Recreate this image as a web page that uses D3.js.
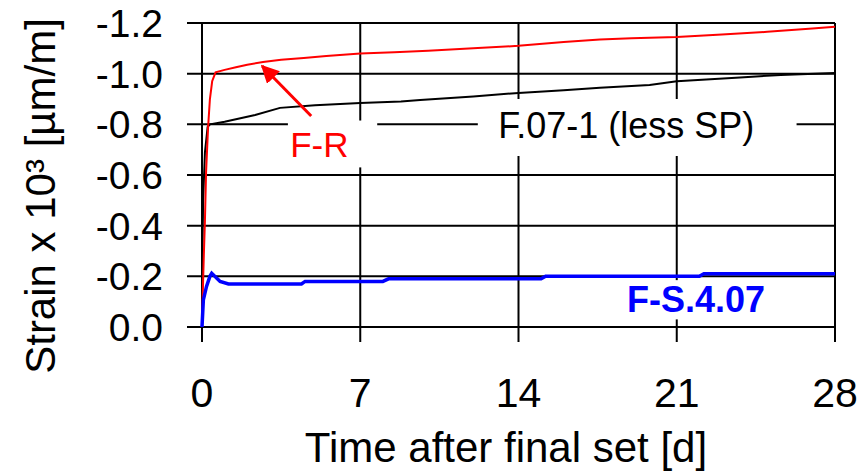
<!DOCTYPE html>
<html>
<head>
<meta charset="utf-8">
<script src="https://cdn.jsdelivr.net/npm/d3@7"></script>
<style>
  body { margin: 0; background: #fff; }
  text { font-family: "Liberation Sans", Arial, sans-serif; }
</style>
</head>
<body>
<div id="chart"></div>
<script>
// data (time in days, strain x 10^3)
var xTicks = [0, 7, 14, 21, 28];
var yTicks = [0, -0.2, -0.4, -0.6, -0.8, -1.0, -1.2];
var yTickLabels = ["0.0", "-0.2", "-0.4", "-0.6", "-0.8", "-1.0", "-1.2"];

var frTime   = [0, 0.03, 0.08, 0.13, 0.18, 0.27, 0.35, 0.45, 0.6, 1, 1.5, 2, 2.7, 3.5, 4.5, 5.5, 7, 8.5, 10, 12, 14, 16, 17.6, 19, 21, 23, 25, 27, 28];
var frStrain = [0, -0.12, -0.28, -0.42, -0.61, -0.79, -0.9, -0.97, -1.005, -1.015, -1.025, -1.035, -1.046, -1.055, -1.062, -1.07, -1.08, -1.085, -1.09, -1.1, -1.11, -1.125, -1.135, -1.14, -1.145, -1.155, -1.165, -1.178, -1.185];

var f07Time   = [0, 0.02, 0.05, 0.13, 0.25, 0.35, 1, 2.35, 3.45, 5, 7, 8.8, 9.65, 12, 14, 16, 17.6, 19.8, 21, 23.8, 25.6, 28];
var f07Strain = [0, -0.3, -0.5, -0.69, -0.79, -0.8, -0.81, -0.837, -0.865, -0.875, -0.884, -0.89, -0.896, -0.91, -0.924, -0.935, -0.944, -0.955, -0.97, -0.985, -0.995, -1.003];

var fsTime   = [0, 0.06, 0.2, 0.35, 0.43, 0.8, 1.17, 4.4, 4.56, 8, 8.25, 15, 15.2, 22, 22.2, 28];
var fsStrain = [0, -0.107, -0.16, -0.2, -0.212, -0.18, -0.17, -0.17, -0.18, -0.18, -0.19, -0.19, -0.2, -0.2, -0.21, -0.21];

// SETUP
var plotLeft = 202, plotRight = 835, plotTop = 23, plotBottom = 327;

var svg = d3.select('#chart')
    .append('svg')
    .attr('width', 862)
    .attr('height', 472);

var xScale = d3.scaleLinear()
    .domain([0, 28])
    .range([plotLeft, plotRight]);

var yScale = d3.scaleLinear()
    .domain([0, -1.2])
    .range([plotBottom, plotTop]);

// grid lines (they stick out 15px as ticks)
svg.selectAll("line.hgrid")
    .data(yTicks)
    .enter()
    .append("line")
    .attr("class", "hgrid")
    .attr("x1", plotLeft - 15)
    .attr("x2", plotRight)
    .attr("y1", (d) => yScale(d))
    .attr("y2", (d) => yScale(d))
    .attr("stroke", "#000")
    .attr("stroke-width", 2);

svg.selectAll("line.vgrid")
    .data(xTicks)
    .enter()
    .append("line")
    .attr("class", "vgrid")
    .attr("x1", (d) => xScale(d))
    .attr("x2", (d) => xScale(d))
    .attr("y1", plotTop)
    .attr("y2", plotBottom + 15)
    .attr("stroke", "#000")
    .attr("stroke-width", 2);

// white boxes behind the labels
var boxes = [
    {x0: 3.8, x1: 7.75, y0: -0.815, y1: -0.63},
    {x0: 12.2, x1: 26.3, y0: -0.9, y1: -0.675},
    {x0: 18.8, x1: 25.4, y0: -0.185, y1: -0.03}
];
svg.selectAll("rect.box")
    .data(boxes)
    .enter()
    .append("rect")
    .attr("class", "box")
    .attr("x", (d) => xScale(d.x0))
    .attr("y", (d) => yScale(d.y0))
    .attr("width", (d) => xScale(d.x1) - xScale(d.x0))
    .attr("height", (d) => yScale(d.y1) - yScale(d.y0))
    .attr("fill", "#fff");

// series
var line = d3.line()
    .x((d) => xScale(d[0]))
    .y((d) => yScale(d[1]));

svg.append("path")
    .datum(d3.zip(f07Time, f07Strain))
    .attr("d", line)
    .attr("fill", "none")
    .attr("stroke", "#000")
    .attr("stroke-width", 2);

svg.append("path")
    .datum(d3.zip(frTime, frStrain))
    .attr("d", line)
    .attr("fill", "none")
    .attr("stroke", "#ff0000")
    .attr("stroke-width", 2);

svg.append("path")
    .datum(d3.zip(fsTime, fsStrain))
    .attr("d", line)
    .attr("fill", "none")
    .attr("stroke", "#0000ff")
    .attr("stroke-width", 3.5);

// labels
svg.append("text")
    .attr("x", xScale(3.9))
    .attr("y", yScale(-0.671))
    .attr("font-size", 35)
    .attr("fill", "#ff0000")
    .text("F-R");

svg.append("text")
    .attr("x", xScale(13.1))
    .attr("y", yScale(-0.746))
    .attr("font-size", 36)
    .attr("fill", "#000")
    .text("F.07-1 (less SP)");

svg.append("text")
    .attr("x", xScale(18.8))
    .attr("y", yScale(-0.06))
    .attr("font-size", 36)
    .attr("font-weight", "bold")
    .attr("fill", "#0000ff")
    .text("F-S.4.07");

// arrow F-R
svg.append("defs").append("marker")
    .attr("id", "head")
    .attr("viewBox", "0 0 10 10")
    .attr("refX", 9)
    .attr("refY", 5)
    .attr("markerWidth", 6)
    .attr("markerHeight", 6)
    .attr("orient", "auto")
    .append("path")
    .attr("d", "M0,0L10,5L0,10z")
    .attr("fill", "#ff0000");

svg.append("line")
    .attr("x1", xScale(4.83))
    .attr("y1", yScale(-0.833))
    .attr("x2", xScale(2.66))
    .attr("y2", yScale(-1.03))
    .attr("stroke", "#ff0000")
    .attr("stroke-width", 3)
    .attr("marker-end", "url(#head)");

// tick labels
svg.selectAll("text.ylab")
    .data(yTicks)
    .enter()
    .append("text")
    .attr("class", "ylab")
    .attr("x", 163)
    .attr("y", (d) => yScale(d))
    .attr("dy", "0.36em")
    .attr("text-anchor", "end")
    .attr("font-size", 39)
    .text((d, i) => yTickLabels[i]);

svg.selectAll("text.xlab")
    .data(xTicks)
    .enter()
    .append("text")
    .attr("class", "xlab")
    .attr("x", (d) => xScale(d))
    .attr("y", 407)
    .attr("text-anchor", "middle")
    .attr("font-size", 41)
    .text((d) => d);

// axis titles
svg.append("text")
    .attr("transform", "translate(55,196) rotate(-90)")
    .attr("text-anchor", "middle")
    .attr("font-size", 42)
    .text("Strain x 10³ [µm/m]");

svg.append("text")
    .attr("x", 506)
    .attr("y", 462)
    .attr("text-anchor", "middle")
    .attr("font-size", 42)
    .text("Time after final set [d]");
</script>
</body>
</html>
